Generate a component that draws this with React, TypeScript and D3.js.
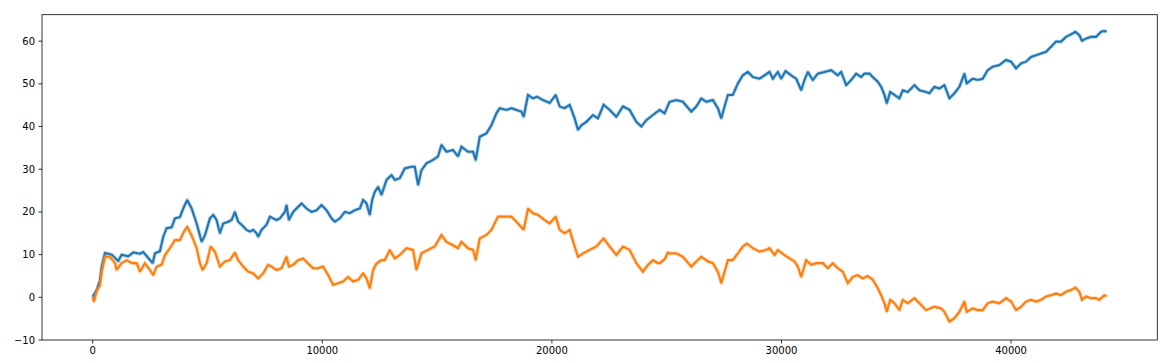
import React from 'react';
import * as d3 from 'd3';

// [step, level] pairs
const blueWalk: [number, number][] = [
  [0, 0.1], [174, 1.7], [318, 4], [392, 7.2], [535, 10.4], [827, 10], [1114, 8.5], [1262, 10], [1549, 9.6], [1767, 10.5],
  [2059, 10.2], [2202, 10.6], [2420, 9.2], [2612, 8], [2712, 10.3], [2929, 10.8], [3073, 14.2], [3221, 16.2], [3438, 16.4], [3582, 18.5],
  [3800, 18.8], [3943, 20.8], [4117, 22.8], [4309, 20.8], [4527, 17.3], [4744, 13], [4888, 14.5], [5106, 18.5], [5249, 19.3], [5397, 18.1],
  [5541, 15], [5684, 17.3], [5902, 17.7], [6050, 18.1],
  [6193, 20], [6337, 17.7], [6485, 17], [6703, 15.8], [6846, 15.4], [6990, 15.8], [7138, 15], [7208, 14.2], [7356, 15.8], [7573, 17],
  [7717, 18.9], [7861, 18.5], [8009, 18.1], [8152, 18.5], [8370, 20], [8444, 21.6], [8544, 18.1], [8731, 20], [8949, 21.2], [9097, 22],
  [9314, 20.8], [9532, 20], [9750, 20.4], [9967, 21.6], [10185, 20.4], [10403, 18.5], [10546, 17.7], [10764, 18.5], [10982, 20], [11199, 19.7],
  [11417, 20.4], [11634, 20.8], [11778, 22.8], [11926, 22], [12070, 19.3], [12170, 22.8], [12287, 24.7], [12431, 25.9], [12579, 24], [12723, 26.3],
  [12797, 27.5], [13014, 28.6], [13158, 27.5], [13375, 27.9], [13593, 30.2], [13884, 30.6], [14028, 30.6], [14172, 26.3], [14320, 29.8], [14537, 31.4],
  [14825, 32.2], [15042, 33], [15190, 35.7], [15408, 34.1], [15695, 34.5], [15913, 33], [16061, 35.3], [16348, 34.1], [16566, 34.1], [16683, 32.1],
  [16857, 37.6], [17149, 38.4], [17366, 40.3], [17584, 43.1], [17728, 44.3], [18019, 43.9], [18237, 44.3], [18455, 43.9], [18672, 43.5], [18773, 42.3],
  [18960, 47.4], [19177, 46.6], [19351, 47], [19613, 46.2], [19904, 45.5], [20165, 47.4], [20339, 44.7], [20557, 44.3], [20775, 45.1], [20992, 41.9],
  [21136, 39.2], [21284, 40.3], [21502, 41.1], [21789, 42.7], [22006, 41.9], [22254, 45.1], [22516, 43.9], [22807, 42.3], [23094, 44.7], [23386, 43.9],
  [23678, 41.1], [23895, 40], [24113, 41.5], [24400, 42.7], [24692, 43.9], [24909, 43.1], [25127, 45.8], [25419, 46.2], [25706, 45.8], [26071, 43.5],
  [26289, 44.7], [26507, 46.6], [26725, 45.8], [27012, 46.2], [27230, 44.3], [27378, 41.9], [27521, 44.7], [27665, 47.4], [27882, 47.4], [28100, 50.1],
  [28318, 52], [28535, 52.8], [28753, 51.6], [29045, 51.2], [29262, 52], [29480, 52.8], [29624, 51.2], [29842, 52.8], [29989, 51.2], [30176, 53],
  [30424, 52], [30642, 51.2], [30860, 48.5], [31003, 50.9], [31147, 52.8], [31364, 50.9], [31582, 52.4], [31873, 52.8], [32165, 53.2], [32452, 52],
  [32600, 52.8], [32818, 49.7], [33036, 50.9], [33253, 52.4], [33471, 51.6], [33614, 52.4], [33832, 52.4], [33976, 51.6], [34193, 50.5], [34341, 49.3],
  [34486, 47.4], [34587, 45.4], [34733, 48.1], [34920, 47.4], [35138, 46.6], [35282, 48.5], [35500, 48.1], [35792, 49.7], [36009, 48.5], [36300, 48.1],
  [36443, 47.8], [36661, 49.3], [36879, 48.9], [37096, 49.7], [37314, 46.6], [37532, 47.8], [37750, 49.3], [37967, 52.4], [38067, 50.1], [38328, 51.2],
  [38546, 50.9], [38763, 51.2], [38981, 53.2], [39199, 54], [39490, 54.4], [39782, 55.6], [40000, 55.2], [40217, 53.6], [40435, 54.8], [40652, 55.2],
  [40870, 56.3], [41088, 56.7], [41305, 57.1], [41523, 57.5], [41741, 58.7], [41959, 59.9], [42176, 59.9], [42394, 61], [42612, 61.6], [42799, 62.2],
  [42973, 61.4], [43090, 60.1], [43264, 60.6], [43482, 61], [43700, 61], [43917, 62.2], [44061, 62.4], [44161, 62.2],
];

const orangeWalk: [number, number][] = [
  [0, 0], [57, -1], [174, 1.5], [318, 2.8], [392, 6], [535, 9.5], [753, 9.5], [971, 8], [1045, 6.4], [1262, 8],
  [1480, 8.7], [1697, 8], [1915, 8], [2059, 6], [2276, 8], [2494, 6.4], [2638, 5.2], [2786, 7.2], [3003, 7.6], [3147, 9.9],
  [3365, 11.5], [3582, 13.4], [3800, 13.4], [3974, 15.4], [4117, 16.5], [4309, 14.5], [4527, 11.5], [4670, 8], [4788, 6.4], [4962, 8],
  [5136, 11.9], [5323, 10.7], [5541, 7.2], [5758, 8.4], [5976, 8.7],
  [6193, 10.5], [6337, 8.7], [6555, 7.2], [6773, 6], [6990, 5.6], [7208, 4.4], [7425, 5.6], [7643, 7.6], [7791, 7.2], [8009, 6.4],
  [8226, 6.8], [8444, 9.5], [8544, 7.2], [8731, 7.6], [8949, 8.7], [9166, 9.1], [9384, 7.9], [9602, 6.8], [9819, 6.8], [10037, 7.2],
  [10255, 5.2], [10472, 2.9], [10690, 3.3], [10907, 3.7], [11125, 4.8], [11343, 3.7], [11560, 4.1], [11778, 5.6], [11926, 4.4], [12070, 2.1],
  [12213, 6.4], [12361, 7.9], [12579, 8.7], [12723, 8.7],
  [12940, 11.1], [13158, 9.1], [13375, 9.9], [13667, 11.5], [13954, 11.1], [14102, 6.4], [14320, 10.3], [14607, 11.1], [14899, 11.9], [15190, 14.6],
  [15408, 13], [15695, 12.2], [15913, 11.5], [16061, 13], [16348, 11.5], [16566, 11.1], [16683, 8.7], [16857, 13.8], [17149, 14.6], [17366, 15.8],
  [17654, 18.9], [17946, 18.9], [18237, 18.9], [18455, 17.7], [18773, 15.8], [18960, 20.8], [19177, 19.7], [19395, 19.3], [19687, 18.1], [19904, 17.3],
  [20165, 18.9], [20339, 15.8], [20557, 15], [20775, 15.8], [20992, 11.9], [21136, 9.5], [21353, 10.3], [21646, 11.1], [21937, 11.9], [22254, 13.8],
  [22516, 11.9], [22807, 9.9], [23094, 11.9], [23386, 11.1], [23678, 8], [23965, 6], [24182, 7.6], [24400, 8.7], [24617, 8], [24692, 8],
  [24909, 8.9], [25054, 10.5], [25127, 10.3], [25419, 10.3], [25706, 9.5], [26071, 7.2], [26289, 8.4], [26507, 9.5], [26797, 8.4], [27012, 8],
  [27230, 6], [27378, 3.3], [27521, 6], [27665, 8.7], [27882, 8.7], [28100, 10.3], [28318, 11.9], [28492, 12.6], [28753, 11.5], [29045, 10.7],
  [29335, 11.1], [29480, 11.5], [29698, 9.9], [29842, 11.1], [30133, 9.9], [30350, 9.1], [30568, 8.4], [30712, 7.2], [30860, 4.8], [31077, 8.7],
  [31295, 7.6], [31512, 8], [31800, 8], [32018, 6.8], [32235, 8], [32452, 6.8], [32670, 6], [32888, 3.3], [33105, 4.8], [33323, 5.2],
  [33541, 4.4], [33758, 5], [33976, 4.1], [34193, 2.1], [34341, 0.5], [34486, -1.4], [34587, -3.4], [34733, -0.6], [34920, -1.4], [35138, -3],
  [35282, -0.6], [35500, -1.4], [35792, -0.2], [36009, -1.4], [36300, -3], [36661, -2.2], [36953, -2.6], [37096, -3.4], [37314, -5.7], [37532, -4.9],
  [37750, -3.4], [37967, -1], [38067, -3.4], [38328, -2.6], [38546, -3], [38763, -3], [38981, -1.4], [39199, -1], [39490, -1.4], [39782, -0.2],
  [40000, -1], [40217, -3], [40435, -2.2], [40652, -1], [40870, -0.6], [41088, -1], [41305, -0.6], [41523, 0.2], [41741, 0.5], [41959, 0.9],
  [42176, 0.5], [42394, 1.3], [42612, 1.7], [42799, 2.3], [42973, 1.3], [43090, -0.6], [43264, 0.2], [43482, -0.2], [43700, -0.2], [43843, -0.6],
  [44061, 0.5], [44161, 0.2],
];

const xTicks = [0, 10000, 20000, 30000, 40000];
const yTicks = [-10, 0, 10, 20, 30, 40, 50, 60];

const series = [
  { name: 'blue', walk: blueWalk, color: '#1f77b4' },
  { name: 'orange', walk: orangeWalk, color: '#ff7f0e' },
];

const W = 1176;
const H = 363;
const left = 42;
const right = 1157.3;
const top = 14.7;
const bottom = 340;

export default function App() {
  const xMax = d3.max(series, s => d3.max(s.walk, d => d[0])) as number;
  const pad = xMax * 0.05;
  const x = d3.scaleLinear().domain([-pad, xMax + pad]).range([left, right]);
  const y = d3.scaleLinear().domain([-10, 66.2]).range([bottom, top]);

  const line = d3.line<[number, number]>()
    .x(d => x(d[0]))
    .y(d => y(d[1]));

  const fmt = (v: number) => (v < 0 ? '\u2212' + Math.abs(v) : String(v));
  const font = 'DejaVu Sans, sans-serif';

  return (
    <svg width={W} height={H} style={{ position: 'absolute', left: 0, top: 0, background: '#fff' }}>
      <g>
        {series.map(s => (
          <g key={s.name}>
            {/* soft band standing in for the fine jitter of the walk */}
            <path
              d={line(s.walk) || ''}
              fill="none"
              stroke={s.color}
              strokeOpacity={0.3}
              strokeWidth={3.8}
              strokeLinejoin="round"
            />
            <path
              d={line(s.walk) || ''}
              fill="none"
              stroke={s.color}
              strokeWidth={2.1}
              strokeLinejoin="miter"
              strokeMiterlimit={2}
            />
          </g>
        ))}
      </g>
      <rect
        x={left}
        y={top}
        width={right - left}
        height={bottom - top}
        fill="none"
        stroke="#000"
        strokeWidth={0.8}
      />
      <g fontFamily={font} fontSize={10} fill="#000">
        {yTicks.map(t => (
          <g key={'y' + t} transform={`translate(0,${y(t)})`}>
            <line x1={left - 3.5} x2={left} stroke="#000" strokeWidth={0.8} />
            <text x={left - 7} dy="0.35em" textAnchor="end">{fmt(t)}</text>
          </g>
        ))}
        {xTicks.map(t => (
          <g key={'x' + t} transform={`translate(${x(t)},0)`}>
            <line y1={bottom} y2={bottom + 3.5} stroke="#000" strokeWidth={0.8} />
            <text y={bottom + 7} dy="0.71em" textAnchor="middle">{t}</text>
          </g>
        ))}
      </g>
    </svg>
  );
}
